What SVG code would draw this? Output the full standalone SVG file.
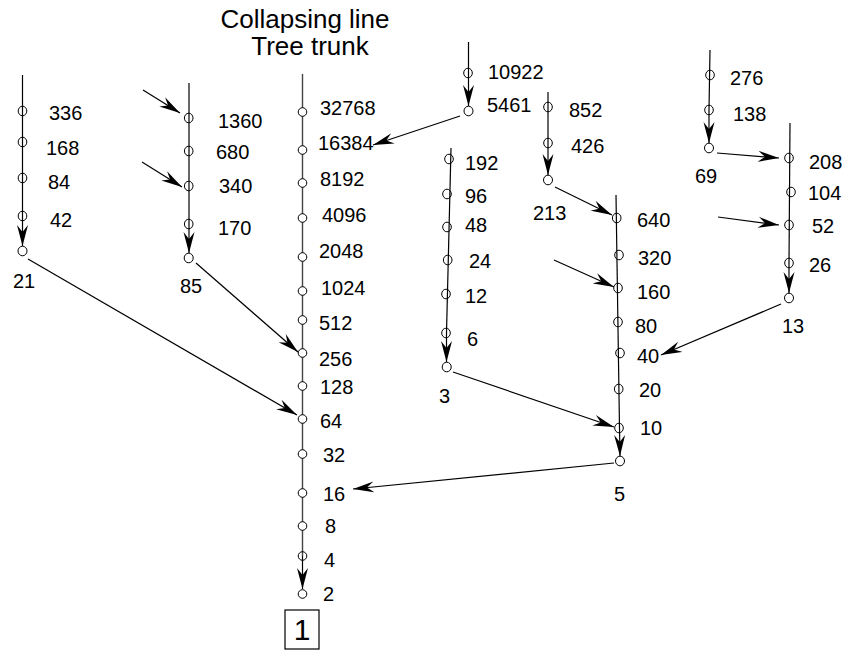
<svg xmlns="http://www.w3.org/2000/svg" width="845" height="650" viewBox="0 0 845 650">
<defs>
<marker id="ah" viewBox="-21 -6 21 12" refX="0" refY="0" markerWidth="21" markerHeight="12" markerUnits="userSpaceOnUse" orient="auto">
<path d="M0,0 L-21,-5.5 L-14,0 L-21,5.5 z" fill="#000"/>
</marker>
<style>
.ln{stroke:#000;stroke-width:1.2;fill:none}
.tr{stroke:#444;stroke-width:1.4;fill:none}
.ar{stroke:#000;stroke-width:1.2;fill:none;marker-end:url(#ah)}
.c{fill:none;stroke:#000;stroke-width:1}
.cw{fill:#fff;stroke:#000;stroke-width:1}
text{font-family:"Liberation Sans",Arial,sans-serif;font-size:20px;fill:#000}
.t{font-size:26px;text-anchor:middle}
</style>
</defs>
<rect width="845" height="650" fill="#fff"/>
<g id="title">
<text class="t" x="305" y="28">Collapsing line</text>
<text class="t" x="310" y="55">Tree trunk</text>
</g>
<g id="connectors">
<line class="ar" x1="28" y1="259" x2="297" y2="415"/>
<line class="ar" x1="196" y1="263" x2="298" y2="352"/>
<line class="ar" x1="143" y1="90" x2="180" y2="113"/>
<line class="ar" x1="142" y1="162" x2="182" y2="187"/>
<line class="ar" x1="460" y1="116" x2="373" y2="145"/>
<line class="ar" x1="555" y1="187" x2="612" y2="215"/>
<line class="ar" x1="554" y1="260" x2="614" y2="287"/>
<line class="ar" x1="453" y1="372" x2="614" y2="427"/>
<line class="ar" x1="781" y1="304" x2="661" y2="355"/>
<line class="ar" x1="717" y1="153" x2="779" y2="158"/>
<line class="ar" x1="718" y1="217" x2="779" y2="225"/>
<line class="ar" x1="614" y1="463" x2="353" y2="489"/>
</g>
<g id="chain21">
<line class="ln" x1="22.5" y1="75" x2="22.5" y2="216"/>
<line class="ar" x1="22.5" y1="216" x2="22.5" y2="246"/>
<ellipse class="c" cx="22.5" cy="111" rx="4.3" ry="4.8"/>
<ellipse class="c" cx="22.5" cy="142" rx="4.3" ry="4.8"/>
<ellipse class="c" cx="22.5" cy="178" rx="4.3" ry="4.8"/>
<ellipse class="c" cx="22.5" cy="216" rx="4.3" ry="4.8"/>
<ellipse class="c" cx="22.5" cy="251" rx="4.5" ry="4.8"/>
<text x="49" y="120">336</text>
<text x="46" y="155">168</text>
<text x="48" y="189">84</text>
<text x="50" y="227">42</text>
<text x="13" y="288">21</text>
</g>
<g id="chain85">
<line class="ln" x1="189" y1="83" x2="189" y2="224"/>
<line class="ar" x1="189" y1="224" x2="189" y2="253"/>
<ellipse class="c" cx="188.7" cy="118" rx="4.3" ry="4.8"/>
<ellipse class="c" cx="188.7" cy="151" rx="4.3" ry="4.8"/>
<ellipse class="c" cx="188.7" cy="186" rx="4.3" ry="4.8"/>
<ellipse class="c" cx="188.7" cy="224" rx="4.3" ry="4.8"/>
<ellipse class="c" cx="188.7" cy="258" rx="4.5" ry="4.8"/>
<text x="218" y="128">1360</text>
<text x="216" y="159">680</text>
<text x="219" y="193">340</text>
<text x="218" y="235">170</text>
<text x="180" y="293">85</text>
</g>
<g id="trunk">
<line class="tr" x1="302.5" y1="74" x2="302.5" y2="556"/>
<line class="ar" x1="302.5" y1="556" x2="302.5" y2="589"/>
<circle class="cw" cx="302.5" cy="112" r="4.3"/>
<circle class="cw" cx="302.5" cy="150" r="4.3"/>
<circle class="cw" cx="302.5" cy="183" r="4.3"/>
<circle class="cw" cx="302.5" cy="218" r="4.3"/>
<circle class="cw" cx="302.5" cy="257" r="4.3"/>
<circle class="cw" cx="302.5" cy="291" r="4.3"/>
<circle class="cw" cx="302.5" cy="320" r="4.3"/>
<circle class="cw" cx="302.5" cy="353" r="4.3"/>
<circle class="cw" cx="302.5" cy="386" r="4.3"/>
<circle class="cw" cx="302.5" cy="419" r="4.3"/>
<circle class="cw" cx="302.5" cy="454" r="4.3"/>
<circle class="cw" cx="302.5" cy="493" r="4.3"/>
<circle class="cw" cx="302.5" cy="526" r="4.3"/>
<circle class="c" cx="302.5" cy="556" r="4.3"/>
<circle class="c" cx="302.5" cy="594" r="4.3"/>
<text x="320" y="115">32768</text>
<text x="318" y="150">16384</text>
<text x="320" y="186">8192</text>
<text x="322" y="222">4096</text>
<text x="319" y="258">2048</text>
<text x="321" y="295">1024</text>
<text x="319" y="330">512</text>
<text x="319" y="366">256</text>
<text x="320" y="394">128</text>
<text x="320" y="428">64</text>
<text x="323" y="462">32</text>
<text x="323" y="501">16</text>
<text x="325" y="533">8</text>
<text x="324" y="567">4</text>
<text x="323" y="601">2</text>
</g>
<g id="root1">
<rect x="285" y="610" width="34" height="39" fill="#fff" stroke="#000" stroke-width="1.2"/>
<text x="302" y="640" style="font-size:30px;text-anchor:middle">1</text>
</g>
<g id="chain5461">
<line class="ln" x1="468.5" y1="42" x2="468.5" y2="73"/>
<line class="ar" x1="468.5" y1="73" x2="468.5" y2="106"/>
<ellipse class="c" cx="468" cy="73" rx="4.3" ry="4.8"/>
<ellipse class="c" cx="468.5" cy="111" rx="4.5" ry="4.8"/>
<text x="488" y="79">10922</text>
<text x="487" y="112">5461</text>
</g>
<g id="chain213">
<line class="ln" x1="548" y1="92" x2="548" y2="143"/>
<line class="ar" x1="548" y1="143" x2="548" y2="175"/>
<ellipse class="c" cx="548" cy="107" rx="4.3" ry="4.8"/>
<ellipse class="c" cx="548" cy="143" rx="4.3" ry="4.8"/>
<ellipse class="c" cx="548" cy="180" rx="4.5" ry="4.8"/>
<text x="569" y="117">852</text>
<text x="571" y="153">426</text>
<text x="533" y="220">213</text>
</g>
<g id="chain3">
<line class="ln" x1="451" y1="148" x2="446.5" y2="333"/>
<line class="ar" x1="446.5" y1="333" x2="446.5" y2="362"/>
<ellipse class="c" cx="449" cy="159" rx="4.3" ry="4.8"/>
<ellipse class="c" cx="447" cy="194" rx="4.3" ry="4.8"/>
<ellipse class="c" cx="447" cy="227" rx="4.3" ry="4.8"/>
<ellipse class="c" cx="447.7" cy="260" rx="4.3" ry="4.8"/>
<ellipse class="c" cx="446" cy="294" rx="4.3" ry="4.8"/>
<ellipse class="c" cx="446" cy="333" rx="4.3" ry="4.8"/>
<ellipse class="c" cx="446.7" cy="367" rx="4.5" ry="4.8"/>
<text x="465" y="170">192</text>
<text x="465" y="203">96</text>
<text x="465" y="232">48</text>
<text x="469" y="268">24</text>
<text x="465" y="303">12</text>
<text x="467" y="346">6</text>
<text x="439" y="403">3</text>
</g>
<g id="chain5">
<line class="ln" x1="616" y1="195" x2="619.5" y2="428"/>
<line class="ar" x1="619.5" y1="428" x2="620" y2="456"/>
<ellipse class="c" cx="616.7" cy="218" rx="4.3" ry="4.8"/>
<ellipse class="c" cx="619" cy="255" rx="4.3" ry="4.8"/>
<ellipse class="c" cx="618" cy="288" rx="4.3" ry="4.8"/>
<ellipse class="c" cx="618" cy="322" rx="4.3" ry="4.8"/>
<ellipse class="c" cx="620" cy="353" rx="4.3" ry="4.8"/>
<ellipse class="c" cx="618.7" cy="389" rx="4.3" ry="4.8"/>
<ellipse class="c" cx="619" cy="428" rx="4.3" ry="4.8"/>
<ellipse class="c" cx="620" cy="461" rx="4.5" ry="4.8"/>
<text x="637" y="227">640</text>
<text x="638" y="265">320</text>
<text x="637" y="299">160</text>
<text x="635" y="333">80</text>
<text x="637" y="363">40</text>
<text x="639" y="397">20</text>
<text x="640" y="435">10</text>
<text x="614" y="501">5</text>
</g>
<g id="chain69">
<line class="ln" x1="710" y1="50" x2="709" y2="110"/>
<line class="ar" x1="709" y1="110" x2="709" y2="143"/>
<ellipse class="c" cx="710" cy="75" rx="4.3" ry="4.8"/>
<ellipse class="c" cx="709" cy="110" rx="4.3" ry="4.8"/>
<ellipse class="c" cx="709" cy="148" rx="4.5" ry="4.8"/>
<text x="730" y="85">276</text>
<text x="733" y="121">138</text>
<text x="695" y="183">69</text>
</g>
<g id="chain13">
<line class="ln" x1="790" y1="123" x2="789" y2="263"/>
<line class="ar" x1="789" y1="263" x2="789" y2="293"/>
<ellipse class="c" cx="789" cy="158" rx="4.3" ry="4.8"/>
<ellipse class="c" cx="791" cy="192" rx="4.3" ry="4.8"/>
<ellipse class="c" cx="789" cy="225" rx="4.3" ry="4.8"/>
<ellipse class="c" cx="789" cy="263" rx="4.3" ry="4.8"/>
<ellipse class="c" cx="789" cy="298" rx="4.5" ry="4.8"/>
<text x="809" y="169">208</text>
<text x="808" y="200">104</text>
<text x="812" y="233">52</text>
<text x="809" y="272">26</text>
<text x="782" y="333">13</text>
</g>
</svg>
